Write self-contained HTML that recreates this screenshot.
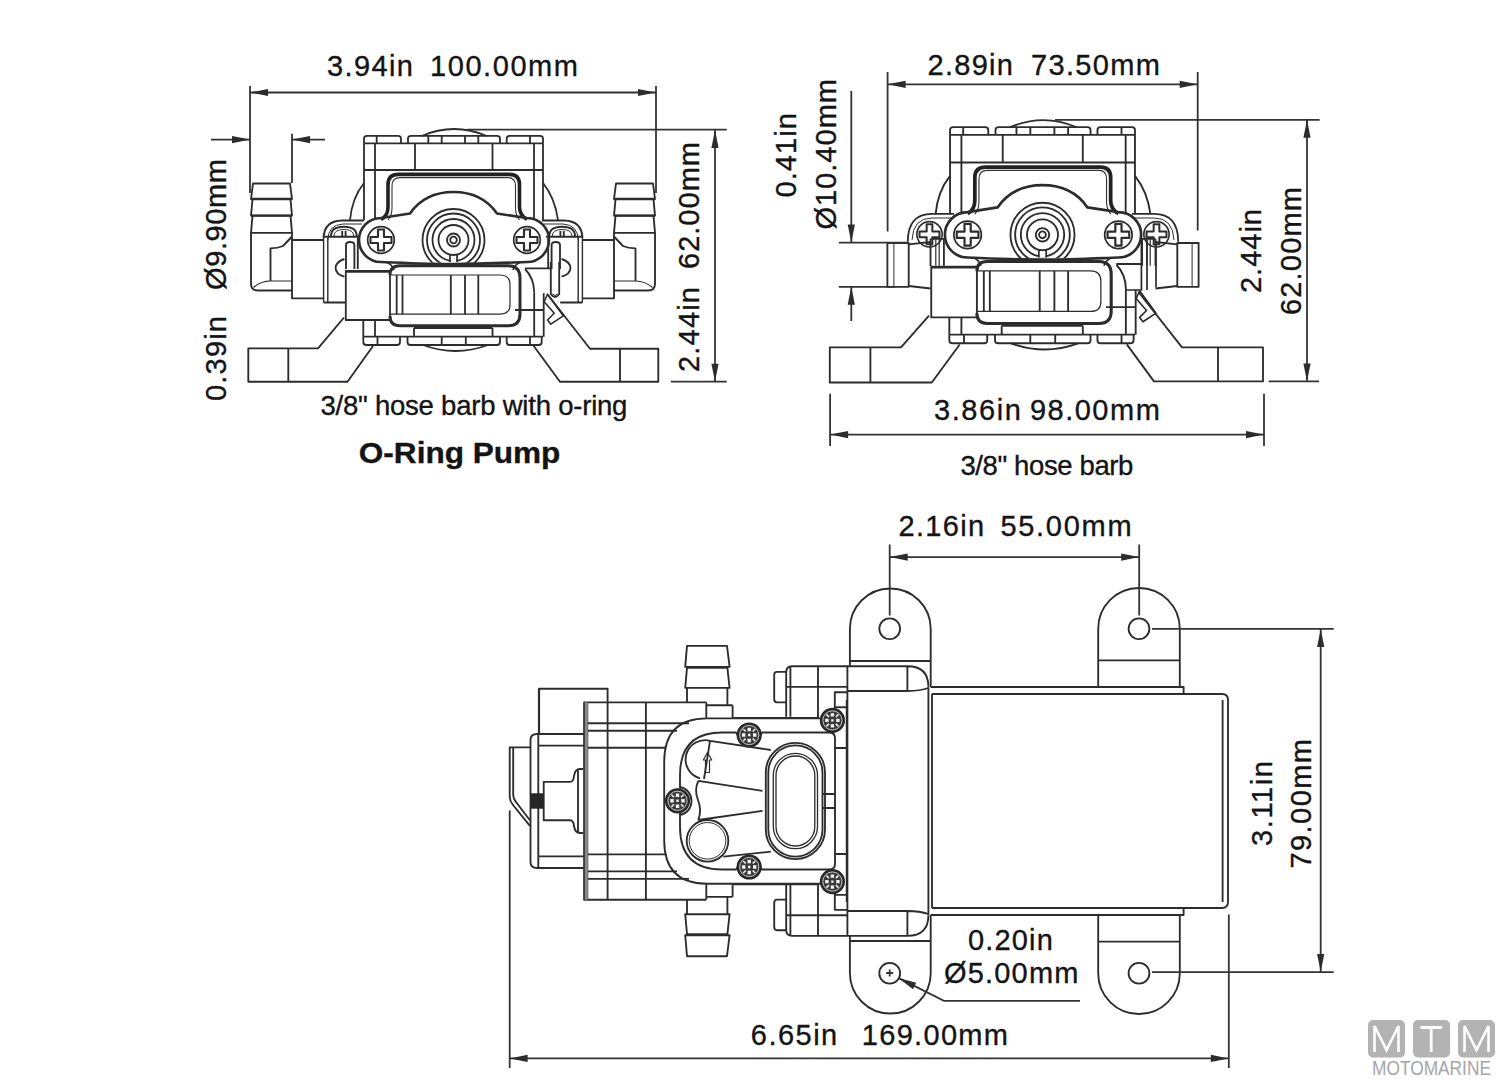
<!DOCTYPE html>
<html><head><meta charset="utf-8">
<style>
html,body{margin:0;padding:0;background:#fff;width:1500px;height:1080px;overflow:hidden}
svg{display:block}
text{font-family:"Liberation Sans",sans-serif;fill:#141414;stroke:#141414;stroke-width:0.35px}
</style></head><body>
<svg width="1500" height="1080" viewBox="0 0 1500 1080">
<defs>
<g id="arw"><path d="M0,0 L18,-3.6 L18,3.6 Z" fill="#2c2c2c" stroke="none"/></g>
<g id="scr">
 <circle r="13.3" fill="none" stroke="#2c2c2c" stroke-width="1.7"/>
 <path d="M-3,-10.5 H3 V-3 H10.5 V3 H3 V10.5 H-3 V3 H-10.5 V-3 H-3 Z" fill="none" stroke="#2c2c2c" stroke-width="2.1"/>
</g>
<g id="core" fill="none" stroke="#2c2c2c" stroke-width="1.8" stroke-linejoin="round">
 <!-- dome -->
 <path d="M421.7,136 Q454,122 486.7,136"/>
 <!-- tabs top -->
 <path d="M364,143.3 V138.5 Q364,135.8 367,135.8 H398 Q401,135.8 401,138.5 V143.3"/>
 <path d="M408,143.3 V138.5 Q408,135.8 411,135.8 H497 Q500,135.8 500,138.5 V143.3"/>
 <path d="M506.7,143.3 V138.5 Q506.7,135.8 509.7,135.8 H540 Q543,135.8 543,138.5 V143.3"/>
 <path d="M376.7,135.8 V143.3 M428.3,135.8 V143.3 M441.7,135.8 V143.3 M465,135.8 V143.3 M478.3,135.8 V143.3 M530,135.8 V143.3"/>
 <!-- body top -->
 <path d="M364,143.3 H543 M364,143.3 V220 M543,143.3 V220 M375,143.3 V220 M534,143.3 V220 M415,143.3 V170 M492.5,143.3 V170 M364,170 H543"/>
 <path d="M364,183 Q352,198 350,220 M543,183 Q555,198 558,220"/>
 <!-- frame -->
 <path d="M381,219.5 C385.5,217 388,213 388,207 V184.5 Q388,174.4 398.5,174.4 H509.5 Q519.5,174.4 519.5,184.5 V207 C519.5,213 522.5,217 527,219.5" stroke-width="3.6" stroke="#222"/>
 <path d="M388,220 C390.5,217 392,214 392,208 V186 Q392,177.6 400,177.6 H508 Q515.5,177.6 515.5,186 V208 C515.5,214 517,217 519.5,220" stroke-width="1.1" stroke="#333"/>
 <!-- bracket -->
 <path d="M381,218 L410,213.5 C420,199 435,192 453.5,192 C472,192 487,199 497,213.5 L527,218 A22,22 0 0 1 527,262 C500,263 480,264 453.5,264 C427,264 407,263 381,262 A22,22 0 0 1 381,218 Z" stroke-width="2.6"/>
 
 <path d="M386,262 Q392,264 394,270 M521,262 Q515,264 513,270" stroke-width="1.6"/>
 <!-- rings -->
 <clipPath id="ringclip"><rect x="-40" y="-50" width="80" height="72.8"/></clipPath>
 <g transform="translate(453.5,240)" clip-path="url(#ringclip)">
  <circle r="31"/><circle r="26.5"/><circle r="21"/><circle r="15"/><circle r="6.5" stroke-width="1.8"/><circle r="3.3"/>
 </g>
 <path d="M450,254.5 V262 M457,254.5 V262"/>
 <rect x="450.9" y="256" width="5.2" height="6" fill="#fff" stroke="none"/>
 <use href="#scr" x="381" y="240"/>
 <use href="#scr" x="527" y="240"/>
 <!-- strap -->
 <path d="M390,275 Q390,265.8 400,265.8 H508 Q520,265.8 520,278 V314 Q520,325.8 508,325.8 H400 Q390,325.8 390,316" stroke-width="3"/>
 <path d="M390,275 H500 Q510,275 510,285 V305 Q510,314.2 500,314.2 H390" stroke-width="1.2"/>
 <path d="M396.7,275 V314.2 M402.5,275 V314.2 M450.8,275 V314.2 M465,275 V314.2 M478.3,275 V314.2"/>
 <!-- left strap block -->
 <rect x="345.8" y="270.8" width="44.2" height="49.2"/>
 <path d="M345.8,271.5 H390" stroke-width="2.4"/>
 <!-- base -->
 <path d="M363.3,320 V336.7 M375,320 V336.7 M363.3,336.7 H543 M414,328 V336.7 M492.5,328 V336.7 M414,328 H492.5 M534.2,292.5 V336.7 M543.7,293.3 V336.7 M525,268.3 H550 M515,310 H543.7"/>
 <path d="M547.5,294.2 L563.3,315.8 L550.8,324.2 L547.5,320 L554.2,313.3 L544.2,301.7 Z" stroke-width="1.6"/>
 <path d="M363.3,336.7 V342 Q363.3,345 366.3,345 H397 Q400,345 400,342 V336.7"/>
 <path d="M407.5,336.7 V342 Q407.5,345 410.5,345 H497 Q500,345 500,342 V336.7"/>
 <path d="M506.7,336.7 V342 Q506.7,345 509.7,345 H538.7 Q541.7,345 541.7,342 V336.7"/>
 <path d="M377.5,336.7 V345 M441.7,336.7 V345 M465.8,336.7 V345 M530,336.7 V345"/>
 <path d="M423,345 Q455.5,357 488,345"/>
 <path d="M525,269 Q534,278 534.2,292.5"/>
</g>

<g id="sideL" fill="none" stroke="#2c2c2c" stroke-width="1.85" stroke-linejoin="round">
 <!-- barb -->
 <path d="M253,183.5 H290 L292,199 H251 Z M252.5,199.5 L251,215.6 H292 L290.5,199.5" />
 <path d="M251,199 H292 M251,215.6 H292" stroke-width="2.4"/>
 <path d="M252.5,215.6 L251,232.8 H292 L290.5,215.6"/>
 <path d="M251,232.8 V284 Q251,290.5 258,290.5 H292"/>
 <path d="M292,232.8 V236.5 L283,246 Q278,248.3 270.5,248.3 V281 M292,237 V298.3 H323.6"/>
 <path d="M253.5,287.5 Q261,281 270.5,281 H292" stroke-width="1.2"/>
 <path d="M292,240 H323.6 M323.6,302.5 H345.8"/>
 <path d="M323.6,238 V302.5 M327.8,238 V302.5" stroke-width="1.4"/>
 <!-- housing -->
 <path d="M323.6,238 Q324,221 342,220.5 H364" stroke-width="2"/>
 <path d="M327.8,240 Q328,225 343,224 H362" stroke-width="1"/>
 <path d="M331,236 Q331,226.7 344,226.7 Q356.7,226.7 356.7,236" />
 <path d="M334,236 Q334,229.5 344,229.5 Q353.7,229.5 353.7,236" stroke-width="1"/>
 <path d="M342.2,231 V236 M345.6,231 V236 M324.4,236.7 H360"/>
 <path d="M346,269 V245 Q346,242 350.2,242 Q354.4,242 354.4,245 V269"/>
 <path d="M344.4,259 Q335.6,262 335.6,268 Q335.6,274 344.4,276.7"/>
 <path d="M357.8,238 V269"/>
</g>

<g id="sideR" fill="none" stroke="#2c2c2c" stroke-width="1.85" stroke-linejoin="round">
 <path d="M887.4,243 H908.7 V286.8 H887.4 Z" />
 <path d="M893.9,243 V286.8" stroke-width="1"/>
 <path d="M908.7,244.4 L930.5,242 M908.7,286 L930.5,288.5"/>
 <path d="M930.5,238.9 H943.9 V265.7 M930.5,238.9 V266"/>
 <path d="M935.8,239 V265.7 M939.2,239 V265.7" stroke-width="1.2"/>
 <path d="M907.8,241.7 Q907.8,214 931.9,213.9 H954" stroke-width="1.8"/>
 <path d="M912,240 Q913,218 931.9,218 H951" stroke-width="1"/>
 <use href="#scr" x="929.5" y="234.3" transform="translate(929.5,234.3) scale(0.95) translate(-929.5,-234.3)"/>
</g>

<g id="hs">
 <circle r="11.6" fill="#3a3a3a" stroke="#262626" stroke-width="2"/>
 <circle r="9.6" fill="none" stroke="#d0d0d0" stroke-width="0.9"/>
 <path d="M-1.7,-7.2 h3.4 v3.4 h-3.4 Z M-1.7,3.8 h3.4 v3.4 h-3.4 Z M-7.2,-1.7 h3.4 v3.4 h-3.4 Z M3.8,-1.7 h3.4 v3.4 h-3.4 Z M-1.2,-1.2 h2.4 v2.4 h-2.4 Z" fill="#f4f4f4" stroke="none"/>
 <path d="M-6,-6 L-3.5,-3.5 M6,-6 L3.5,-3.5 M-6,6 L-3.5,3.5 M6,6 L3.5,3.5" stroke="#f0f0f0" stroke-width="1.6"/>
</g>
<g id="bvHalf" fill="none" stroke="#2c2c2c" stroke-width="1.85" stroke-linejoin="round">
 <!-- ears -->
 <path d="M849.9,666 V628.8 A40.4,40.4 0 0 1 930.7,628.8 V687 M849.9,661 H930.7"/>
 <circle cx="889.7" cy="628.8" r="10.4"/>
 <path d="M1098.2,687 V628.8 A40.8,40.8 0 0 1 1179.8,628.8 V687 M1098.2,660.4 H1179.8"/>
 <circle cx="1139" cy="628.8" r="10.4"/>
 <!-- motor -->
 <path d="M930.7,687 H1183.6 V694 M932,694 H1222 Q1228,694 1228,700 V801 M1222.6,700 V801 M928.4,687 V801 M932,694 V801"/>
 <!-- cap -->
 <path d="M847.4,801 V666.2 H907.4 Q928.4,666.2 928.4,686.8 M847.4,691 H907.4 Q920,691 928.4,688 M907.4,666.2 V691"/>
 <!-- left block -->
 <path d="M818,718 V666.2 M786.2,716.8 V672 Q786.2,666.2 792,666.2 H847.4 M790.4,666.2 V716.8 M786.2,686.8 H847.4 M732.5,717.8 H818"/>
 <path d="M786,671.8 H777 Q774.2,671.8 774.2,675 V699 Q774.2,702.4 777,702.4 H786"/>
 <path d="M834.8,732 V692.2 H847.4 M834.8,707.2 H847.4 M835,748 H847.4"/>
 <!-- top barb -->
 <path d="M687,645.8 H727 L729.6,666.8 H685.2 Z M687,667.8 H727.4 L729.6,687.8 H685.2 Z" />
 <path d="M687,687.8 V702.3 M727.4,687.8 V705.2 M706.3,702.3 V717.8 M732.6,705.2 V717.8 M706.3,705.2 H732.6"/>
 <!-- body -->
 <path d="M584.1,801 V702.3 H706.3 M587.3,702.3 V801 M607.6,702.3 V801 M645.9,702.3 V801 M584.1,723.2 H689 M584.1,730.7 H677 M584.1,747.7 H665"/>
 <path d="M584.1,734 H537 Q530.5,734 530.5,740 V801 M538.3,734 V801 M538.3,745.6 H584.1"/>
 <!-- shaft -->
 <path d="M543.7,801 V781.8 H570 Q573.5,781.8 574,776 Q575,769 580,769 H583 M578,770 V801"/>
 <path d="M530.5,793.3 H543.2 V801 H530.5 Z" fill="#262626" stroke="none"/>
 <rect x="584.8" y="702.3" width="3" height="98.7" fill="#8a8a8a" stroke="none"/>
 <!-- plate -->
 <path d="M820,718.3 H706.7 Q664.2,718.3 664.2,761.7 V801"/>
 <path d="M680,801 V787 A14,14 0 0 1 691.5,801 M680,787 V775 Q680,732.5 722,732.5 H736 A14,14 0 0 0 762,732.5 H829 Q835,732.5 835,738 V801"/>
 <path d="M765.8,801 V772.5 A29.6,29.6 0 0 1 825,772.5 V801 M768.3,801 V772.5 A27.1,27.1 0 0 1 822.5,772.5 V801"/>
 <path d="M773.3,801 V775.4 A22.1,22.1 0 0 1 817.5,775.4 V801 M776,801 V775.4 A19.4,19.4 0 0 1 814.8,775.4 V801" stroke-width="1.3"/>
 <path d="M822.5,794 H835 M846.7,700 V801"/>
 <use href="#hs" x="749.2" y="735"/>
 <use href="#hs" x="832.4" y="720.4"/>
</g>
</defs>

<!-- ============ TOP LEFT VIEW ============ -->

<use href="#core"/>
<use href="#sideL"/>
<use href="#sideL" transform="translate(906,0) scale(-1,1)"/>
<g fill="none" stroke="#2c2c2c" stroke-width="1.85" stroke-linejoin="round">
 <!-- feet -->
 <path d="M344,317.5 L318,348.3 H248.3 V381.7 H347.5 L373,346 M288.3,348.3 V381.7"/>
 <path d="M548,295 L590,348.7 H658.3 V381.7 H560 L533,345 M620,348.7 V381.7"/>
 <path d="M550.8,262 V294 Q555,300 559.2,294 V262"/>
 <path d="M552.5,294 Q555,297 557.5,294" stroke-width="1"/>
</g>
<g fill="none" stroke="#333" stroke-width="1.8">
 <path d="M250,86 V193 M656,86 V193 M250,92.5 H656"/>
 <path d="M211,139.6 H250 M292,139.6 H325 M292,133.7 V183"/>
 <path d="M466.7,129.7 H726.7 M670.8,381.7 H726.7 M715,130 V381.7"/>
</g>
<use href="#arw" transform="translate(250,92.5)"/>
<use href="#arw" transform="translate(656,92.5) scale(-1,1)"/>
<use href="#arw" transform="translate(250,139.6) scale(-1,1)"/>
<use href="#arw" transform="translate(292,139.6)"/>
<use href="#arw" transform="translate(715,130) rotate(90)"/>
<use href="#arw" transform="translate(715,381.7) rotate(-90)"/>
<text x="327" y="76" font-size="29" textLength="86" lengthAdjust="spacing">3.94in</text>
<text x="430" y="76" font-size="29" textLength="148" lengthAdjust="spacing">100.00mm</text>
<text transform="translate(226.3,401) rotate(-90)" font-size="29" textLength="85" lengthAdjust="spacing">0.39in</text>
<text transform="translate(226.3,290) rotate(-90)" font-size="29" textLength="131" lengthAdjust="spacing">Ø9.90mm</text>
<text transform="translate(699,372) rotate(-90)" font-size="29" textLength="85" lengthAdjust="spacing">2.44in</text>
<text transform="translate(699,269) rotate(-90)" font-size="29" textLength="127" lengthAdjust="spacing">62.00mm</text>
<text x="320.4" y="414.8" font-size="27.5" textLength="307" lengthAdjust="spacing">3/8" hose barb with o-ring</text>
<text x="358.8" y="462.8" font-size="30" font-weight="bold" textLength="201.6" lengthAdjust="spacingAndGlyphs">O-Ring Pump</text>


<!-- ============ TOP RIGHT VIEW ============ -->
<use href="#core" transform="translate(1042.5,234.8) scale(1.033) translate(-453.5,-240)"/>
<use href="#sideR"/>
<use href="#sideR" transform="translate(2086,0) scale(-1,1)"/>
<path d="M1141.4,239.4 V290 H1125.8 M1147,239.4 V290 M1156,242.5 V287.5" fill="none" stroke="#2c2c2c" stroke-width="1.7"/>
<g fill="none" stroke="#2c2c2c" stroke-width="1.85" stroke-linejoin="round">
 <path d="M929,315.7 L901,347.3 H829.8 V382.5 H931.8 L959.7,344.5 M870.4,347.3 V382.5"/>
 <path d="M1138.5,292 L1182,347.4 H1263 V381.4 H1154 L1126.8,344.4 M1218,347.4 V381.4"/>
</g>
<g fill="none" stroke="#333" stroke-width="1.8">
 <path d="M887.6,72 V231.5 M1197.7,72 V230.6 M887.6,84.3 H1197.7"/>
 <path d="M851.3,91 V242.6 M838.8,242.6 H908 M838.8,286.8 H895 M851.3,286.8 V321"/>
 <path d="M1055,119.8 H1319.6 M1268.7,381.4 H1319 M1307,119.8 V381.4"/>
 <path d="M830.1,393.8 V446 M1264,393.8 V446 M830.1,434.6 H1264"/>
</g>
<use href="#arw" transform="translate(887.6,84.3)"/>
<use href="#arw" transform="translate(1197.7,84.3) scale(-1,1)"/>
<use href="#arw" transform="translate(851.3,242.6) rotate(-90)"/>
<use href="#arw" transform="translate(851.3,286.8) rotate(90)"/>
<use href="#arw" transform="translate(1307,119.8) rotate(90)"/>
<use href="#arw" transform="translate(1307,381.4) rotate(-90)"/>
<use href="#arw" transform="translate(830.1,434.6)"/>
<use href="#arw" transform="translate(1264,434.6) scale(-1,1)"/>
<text x="927.5" y="75" font-size="29" textLength="85.5" lengthAdjust="spacing">2.89in</text>
<text x="1031" y="75" font-size="29" textLength="129" lengthAdjust="spacing">73.50mm</text>
<text transform="translate(796,197.5) rotate(-90)" font-size="29" textLength="84.5" lengthAdjust="spacing">0.41in</text>
<text transform="translate(836,229.6) rotate(-90)" font-size="29" textLength="150.6" lengthAdjust="spacing">Ø10.40mm</text>
<text transform="translate(1261,293) rotate(-90)" font-size="29" textLength="84" lengthAdjust="spacing">2.44in</text>
<text transform="translate(1300.5,315) rotate(-90)" font-size="29" textLength="128" lengthAdjust="spacing">62.00mm</text>
<text x="934" y="419.9" font-size="29" textLength="87" lengthAdjust="spacing">3.86in</text>
<text x="1030" y="419.9" font-size="29" textLength="129.8" lengthAdjust="spacing">98.00mm</text>
<text x="960.4" y="475" font-size="27.5" textLength="173" lengthAdjust="spacing">3/8" hose barb</text>

<!-- ============ BOTTOM VIEW ============ -->
<use href="#bvHalf"/>
<use href="#bvHalf" transform="translate(0,1602) scale(1,-1)"/>
<use href="#hs" x="677.5" y="800.8"/>
<g fill="none" stroke="#2c2c2c" stroke-width="1.85" stroke-linejoin="round">
 <path d="M530.6,747.4 H509.7 V796.7 Q509.7,801 513,805 L529.9,825.8 M513.2,748 V795 Q513.2,799 516,802 L529.9,820.3"/>
 <path d="M539,734 V688.7 H607.6 V702.3" />
 <path d="M539,689 V734" stroke-width="2.2"/>
 <path d="M770.8,750 L710,740.8 A19,19 0 0 0 700,778.3 M710,740.8 L704,779"/>
 <path d="M707.5,752.5 L711.7,760 H709.5 V772.5 H705.5 V760 H703.3 Z" stroke-width="1.2"/>
 <path d="M698.3,780.8 L762.5,790.8 M698.3,820 L762.5,810.8 M698.3,780.8 Q694,790 698,800 Q702,810 698.3,820"/>
 <circle cx="707.5" cy="840.8" r="20.8"/><circle cx="707.5" cy="840.8" r="18.3" stroke-width="1"/>
 <path d="M723.3,856.7 L770.8,851.7"/>
</g>
<g fill="none" stroke="#333" stroke-width="1.8">
 <path d="M889.7,544.5 V615.4 M1139.2,544.5 V615.4 M889.7,557.1 H1139.2"/>
 <path d="M1152,628.9 H1333.7 M1152,972.2 H1333.7 M1320.7,629 V972"/>
 <path d="M509.7,810.5 V1068 M1228.8,914.4 V1068 M509.6,1058.4 H1228.8"/>
 <path d="M899.2,978.4 L944,1000.8 H1080 M886.2,973 H893.2 M889.7,969.5 V976.5"/>
</g>
<use href="#arw" transform="translate(889.7,557.1)"/>
<use href="#arw" transform="translate(1139.2,557.1) scale(-1,1)"/>
<use href="#arw" transform="translate(1320.7,629) rotate(90)"/>
<use href="#arw" transform="translate(1320.7,972) rotate(-90)"/>
<use href="#arw" transform="translate(509.6,1058.4)"/>
<use href="#arw" transform="translate(1228.8,1058.4) scale(-1,1)"/>
<use href="#arw" transform="translate(898.5,978) rotate(26.6)"/>
<text x="898.5" y="536" font-size="29" textLength="85.7" lengthAdjust="spacing">2.16in</text>
<text x="1000.4" y="536" font-size="29" textLength="131.2" lengthAdjust="spacing">55.00mm</text>
<text transform="translate(1272.3,846) rotate(-90)" font-size="29" textLength="85" lengthAdjust="spacing">3.11in</text>
<text transform="translate(1311.3,868.5) rotate(-90)" font-size="29" textLength="129.5" lengthAdjust="spacing">79.00mm</text>
<text x="968" y="949.6" font-size="29" textLength="84.8" lengthAdjust="spacing">0.20in</text>
<text x="944" y="983.2" font-size="29" textLength="134.4" lengthAdjust="spacing">Ø5.00mm</text>
<text x="750.8" y="1045.4" font-size="29" textLength="86.4" lengthAdjust="spacing">6.65in</text>
<text x="861.8" y="1045.4" font-size="29" textLength="146.2" lengthAdjust="spacing">169.00mm</text>
<!-- logo -->
<g>
 <rect x="1368" y="1020" width="37" height="37.5" rx="5" fill="#b3b3b3"/>
 <rect x="1413" y="1020" width="37" height="37.5" rx="5" fill="#b3b3b3"/>
 <rect x="1458" y="1020" width="37" height="37.5" rx="5" fill="#b3b3b3"/>
 <path d="M1374.5,1052 V1026 L1386.5,1050 L1398.5,1026 V1052" fill="none" stroke="#fff" stroke-width="2.6" stroke-linejoin="miter"/>
 <path d="M1420.5,1027.5 H1442 M1431.2,1027.5 V1052" fill="none" stroke="#fff" stroke-width="2.8"/>
 <path d="M1464.5,1052 V1026 L1476.5,1050 L1488.5,1026 V1052" fill="none" stroke="#fff" stroke-width="2.6" stroke-linejoin="miter"/>
 <text x="1372" y="1074.5" font-size="19.5" style="fill:#a6a6a6;stroke:none" textLength="119" lengthAdjust="spacingAndGlyphs">MOTOMARINE</text>
</g>
</svg>
</body></html>
